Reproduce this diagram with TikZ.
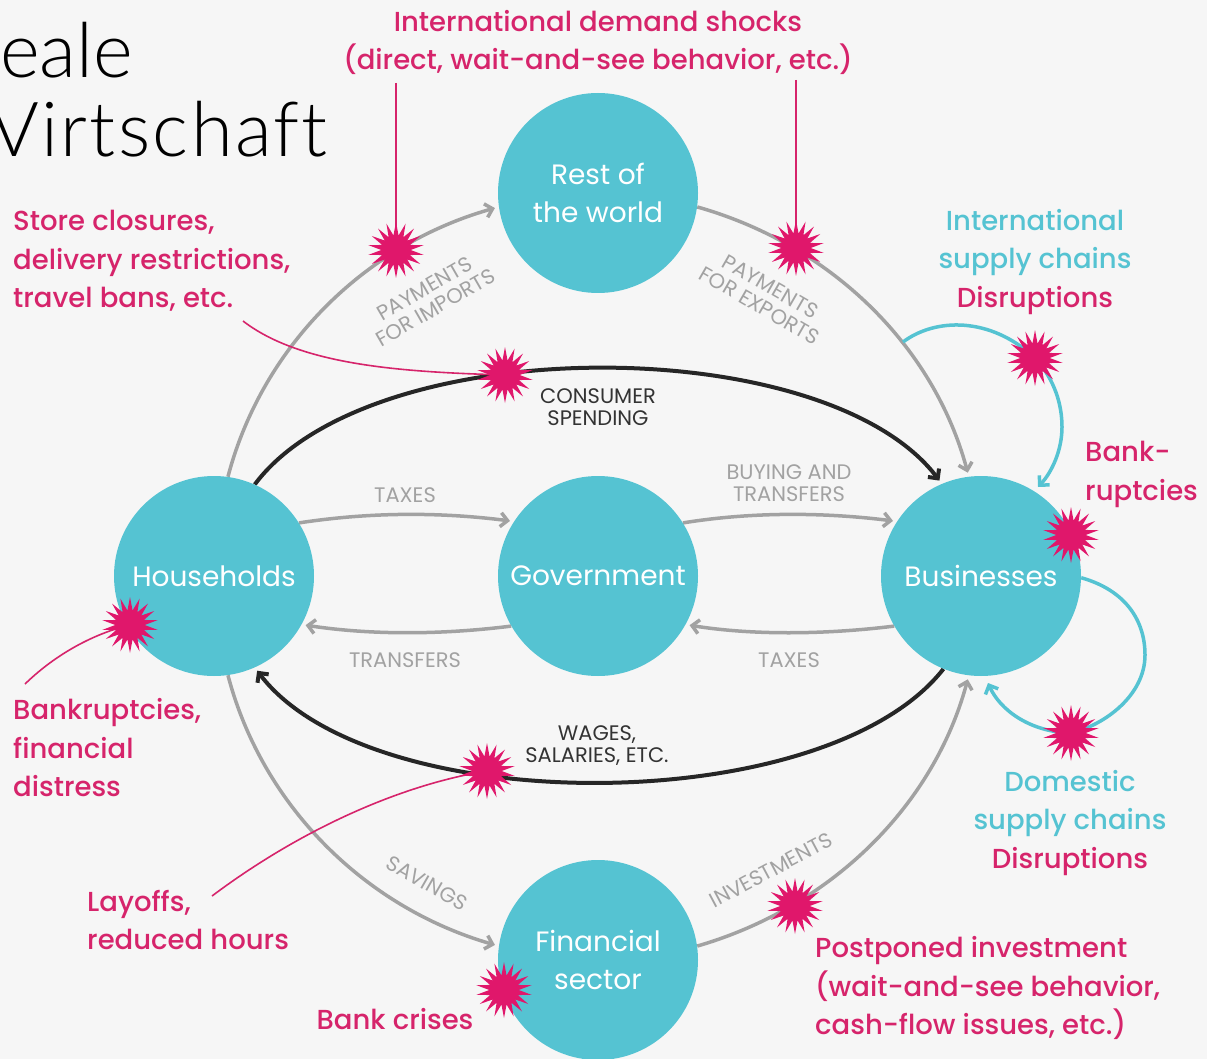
\documentclass[tikz,border=0pt]{standalone}
\usepackage{fontspec}
\setmainfont{Poppins Medium}
\newfontfamily\labelfont{Poppins}
\newfontfamily\titlefont[LetterSpace=3,Ligatures=NoCommon]{Lato Light}
\usetikzlibrary{arrows.meta}
\usetikzlibrary{shapes.geometric}
\usetikzlibrary{backgrounds}

\definecolor{sector}{HTML}{55C3D2}
\definecolor{shock}{HTML}{D6246B}
\definecolor{burst}{HTML}{E0176B}
\definecolor{flowgray}{HTML}{A2A2A2}
\definecolor{paper}{HTML}{F6F6F6}

\tikzset{
  sectornode/.style={circle, fill=sector, minimum size=200, inner sep=0, text=white, align=center, font=\labelfont\fontsize{28}{38.5}\selectfont},
  burstnode/.style={star, star points=18, star point ratio=1.9, minimum size=56, inner sep=0, fill=burst},
  shocktext/.style={text=shock, align=left, inner sep=0, font=\fontsize{27.5}{38.5}\selectfont},
  flowtext/.style={text=flowgray, align=center, inner sep=0, font=\labelfont\fontsize{21}{22}\selectfont},
  moneytext/.style={text=black!80, align=center, inner sep=0, font=\labelfont\fontsize{21}{22}\selectfont},
  flow/.style={draw=flowgray, line width=3.5, -{Straight Barb[length=7,width=14]}, shorten >=4},
  money/.style={draw=black!85, line width=4, -{Straight Barb[length=7,width=14]}, shorten >=4},
  chain/.style={draw=sector, line width=3.5, -{Straight Barb[length=7,width=14]}},
  pointer/.style={draw=shock, line width=1.6}
}

\begin{document}
\begin{tikzpicture}[x=1pt, y=-1pt]
\useasboundingbox (0,0) rectangle (1207,1059);
\begin{scope}[on background layer]
\fill[paper] (0,0) rectangle (1207,1059);
\end{scope}
\clip (0,0) rectangle (1207,1059);

\node[anchor=base west, inner sep=0, font=\titlefont\fontsize{76}{76}\selectfont\addfontfeature{LetterSpace=0}] (reale) at (0,78) {eale};
\node[anchor=base east, inner sep=0, font=\titlefont\fontsize{76}{76}\selectfont] (wirt) at (328,157) {Virtschaft};

\node[sectornode] (rest) at (598,193) {Rest of\\the world};
\node[sectornode] (house) at (214,576) {Households};
\node[sectornode] (gov) at (598,576) {Government};
\node[sectornode] (bus) at (981,576) {Businesses};
\node[sectornode] (fin) at (598,960) {Financial\\sector};

\node[burstnode] (bimport) at (396,250) {};
\node[burstnode] (bexport) at (796,248) {};
\node[burstnode] (bsupply) at (1035,358) {};
\node[burstnode] (bconsume) at (505,375) {};
\node[burstnode] (bbank) at (1071,535) {};
\node[burstnode] (bhouse) at (130,625) {};
\node[burstnode] (bdomestic) at (1071,733) {};
\node[burstnode] (bwage) at (487,771) {};
\node[burstnode] (binvest) at (795,906) {};
\node[burstnode] (bfin) at (504,990) {};

\coordinate (pimport) at (396,83);
\coordinate (pexport) at (796,80);
\coordinate (pstore) at (243,321);
\coordinate (pbank) at (25,684);
\coordinate (playoff) at (212,896);
\coordinate (psupply) at (903,342);

\begin{scope}[on background layer]
% outer ring
\draw[flow] (house.82) .. controls (262,347) and (364,245) .. (rest.188);
\draw[flow] (rest.-8) .. controls (832,245) and (934,347) .. (bus.97);
\draw[flow] (house.-82) .. controls (262,805) and (364,907) .. (fin.172);
\draw[flow] (fin.8) .. controls (832,907) and (934,805) .. (bus.-97);

% through government
\draw[flow] (house.32) .. controls (370,512) and (440,512) .. (gov.147.5);
\draw[flow] (gov.32) .. controls (750,512) and (822,512) .. (bus.147.5);
\draw[flow] (bus.210) .. controls (822,635) and (750,635) .. (gov.-29.5);
\draw[flow] (gov.210) .. controls (440,635) and (370,635) .. (house.-29.5);

\draw[money] (house.66.5) .. controls (370,330) and (825,330) .. (bus.113);
\draw[money] (bus.-112.5) .. controls (825,820) and (370,820) .. (house.-66);

% supply loops
\draw[chain] (psupply) .. controls (935,318) and (990,316) .. (bsupply.center) .. controls (1055,380) and (1062,405) .. (1062,427) .. controls (1062,450) and (1052,472) .. (1038,487);
\draw[chain] (bus.-1) .. controls (1125,590) and (1145,620) .. (1145,655) .. controls (1145,695) and (1105,725) .. (bdomestic.center) .. controls (1030,732) and (1000,710) .. (988,683);

\draw[pointer] (pimport) -- (bimport.center);
\draw[pointer] (pexport) -- (bexport.center);
\draw[pointer] (pstore) .. controls (300,365) and (400,372) .. (bconsume.center);
\draw[pointer] (pbank) .. controls (60,650) and (100,632) .. (bhouse.center);
\draw[pointer] (playoff) .. controls (300,830) and (400,785) .. (bwage.center);
\end{scope}

\node[shocktext, align=center] (tdemand) at (598,42.5) {International demand shocks\\(direct, wait-and-see behavior, etc.)};
\node[shocktext, anchor=west] (tstore) at (13,261) {Store closures,\\delivery restrictions,\\travel bans, etc.};
\node[shocktext, align=center] (tsupply) at (1035,262) {\textcolor{sector}{International}\\\textcolor{sector}{supply chains}\\Disruptions};
\node[shocktext, anchor=west] (tbank) at (1085,474.5) {Bank-\\ruptcies};
\node[shocktext, anchor=west] (thouse) at (13,748) {Bankruptcies,\\financial\\distress};
\node[shocktext, anchor=west] (tlayoff) at (87,920) {Layoffs,\\reduced hours};
\node[shocktext] (tcrisis) at (395,1019) {Bank crises};
\node[shocktext, anchor=west] (tinvest) at (815,988) {Postponed investment\\(wait-and-see behavior,\\cash-flow issues, etc.)};
\node[shocktext, align=center] (tdomestic) at (1070,823) {\textcolor{sector}{Domestic}\\\textcolor{sector}{supply chains}\\Disruptions};

\node[flowtext, rotate=30] (limport) at (430,298) {PAYMENTS\\FOR IMPORTS};
\node[flowtext, rotate=-30] (lexport) at (765,296) {PAYMENTS\\FOR EXPORTS};
\node[flowtext, rotate=-30] (lsaving) at (427,883) {SAVINGS};
\node[flowtext, rotate=28] (linvest) at (771,870) {INVESTMENTS};
\node[flowtext] (ltaxup) at (405,495) {TAXES};
\node[flowtext] (lbuying) at (789,483) {BUYING AND\\TRANSFERS};
\node[flowtext] (ltransfer) at (405,660.5) {TRANSFERS};
\node[flowtext] (ltaxdown) at (789,660.5) {TAXES};
\node[moneytext] (lconsume) at (598,407) {CONSUMER\\SPENDING};
\node[moneytext] (lwage) at (597,746) {WAGES,\\SALARIES, ETC.};

\end{tikzpicture}
\end{document}
